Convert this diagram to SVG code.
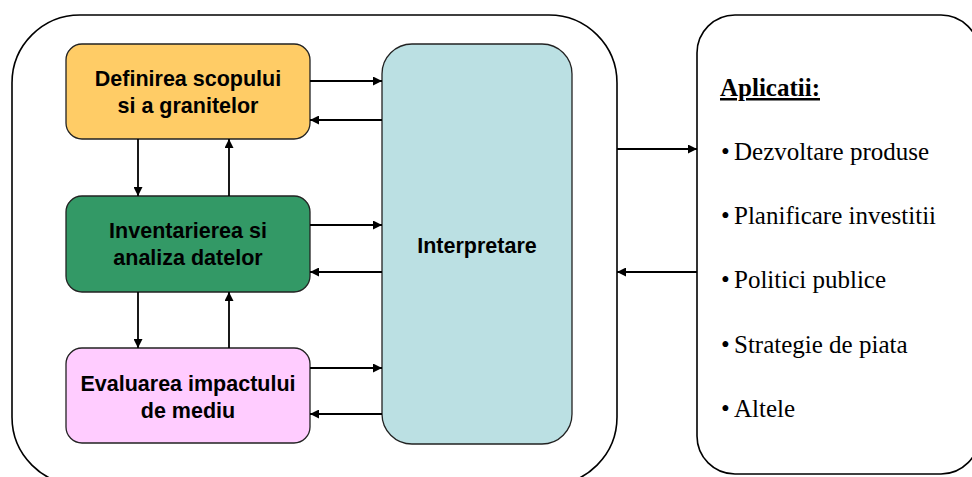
<svg xmlns="http://www.w3.org/2000/svg" width="972" height="477" viewBox="0 0 972 477">
  <style>
    .frame { fill: #ffffff; stroke: #000000; stroke-width: 1.6; }
    .node { stroke: #222222; stroke-width: 1.3; }
    .lbl { font-family: "Liberation Sans", Arial, sans-serif; font-weight: bold; font-size: 21.5px; fill: #000000; text-anchor: middle; }
    .app { font-family: "Liberation Serif", "Times New Roman", serif; font-size: 25px; fill: #000000; }
    .conn line { stroke: #000000; stroke-width: 1.8; }
  </style>
  <defs>
    <marker id="arrow" viewBox="0 0 10 10" refX="10" refY="5" markerWidth="9" markerHeight="9" orient="auto" markerUnits="userSpaceOnUse">
      <path d="M0,0 L10,5 L0,10 z" fill="#000000"/>
    </marker>
  </defs>

  <rect width="972" height="477" fill="#ffffff"/>

  <!-- LCA framework container -->
  <g id="framework">
    <rect class="frame" x="12" y="15" width="605" height="470" rx="68" ry="68"/>
  </g>

  <!-- Applications panel -->
  <g id="applications">
    <rect class="frame" x="697" y="15" width="282" height="459" rx="38" ry="38" stroke-width="2"/>
    <text class="app" x="720" y="96" font-weight="bold" font-size="26" text-decoration="underline">Aplicatii:</text>
    <text class="app" x="721" y="160">•<tspan x="734">Dezvoltare produse</tspan></text>
    <text class="app" x="721" y="224">•<tspan x="734">Planificare investitii</tspan></text>
    <text class="app" x="721" y="288">•<tspan x="734">Politici publice</tspan></text>
    <text class="app" x="721" y="353">•<tspan x="734">Strategie de piata</tspan></text>
    <text class="app" x="721" y="417">•<tspan x="734">Altele</tspan></text>
  </g>

  <g id="scope">
    <rect class="node" x="66" y="44" width="244" height="95" rx="16" ry="16" fill="#FFCC66"/>
    <text class="lbl" x="188" y="86">Definirea scopului</text>
    <text class="lbl" x="188" y="113">si a granitelor</text>
  </g>

  <g id="inventory">
    <rect class="node" x="66" y="196" width="244" height="96" rx="16" ry="16" fill="#339966"/>
    <text class="lbl" x="188" y="238">Inventarierea si</text>
    <text class="lbl" x="188" y="265">analiza datelor</text>
  </g>

  <g id="impact">
    <rect class="node" x="66" y="348" width="244" height="95" rx="16" ry="16" fill="#FFCCFF"/>
    <text class="lbl" x="188" y="391">Evaluarea impactului</text>
    <text class="lbl" x="188" y="418">de mediu</text>
  </g>

  <g id="interpretation">
    <rect class="node" x="382" y="44" width="190" height="400" rx="30" ry="30" fill="#BBE0E3"/>
    <text class="lbl" x="477" y="253">Interpretare</text>
  </g>

  <g id="connectors" class="conn">
    <!-- phases to interpretation and back -->
    <line x1="310" y1="81" x2="382" y2="81" marker-end="url(#arrow)"/>
    <line x1="382" y1="120" x2="310" y2="120" marker-end="url(#arrow)"/>
    <line x1="310" y1="225" x2="382" y2="225" marker-end="url(#arrow)"/>
    <line x1="382" y1="272" x2="310" y2="272" marker-end="url(#arrow)"/>
    <line x1="310" y1="368" x2="382" y2="368" marker-end="url(#arrow)"/>
    <line x1="382" y1="414" x2="310" y2="414" marker-end="url(#arrow)"/>
    <!-- iteration between phases -->
    <line x1="138" y1="139" x2="138" y2="196" marker-end="url(#arrow)"/>
    <line x1="229" y1="196" x2="229" y2="139" marker-end="url(#arrow)"/>
    <line x1="138" y1="292" x2="138" y2="348" marker-end="url(#arrow)"/>
    <line x1="229" y1="348" x2="229" y2="292" marker-end="url(#arrow)"/>
    <!-- framework to applications -->
    <line x1="617" y1="149" x2="697" y2="149" marker-end="url(#arrow)"/>
    <line x1="697" y1="272" x2="617" y2="272" marker-end="url(#arrow)"/>
  </g>
</svg>
